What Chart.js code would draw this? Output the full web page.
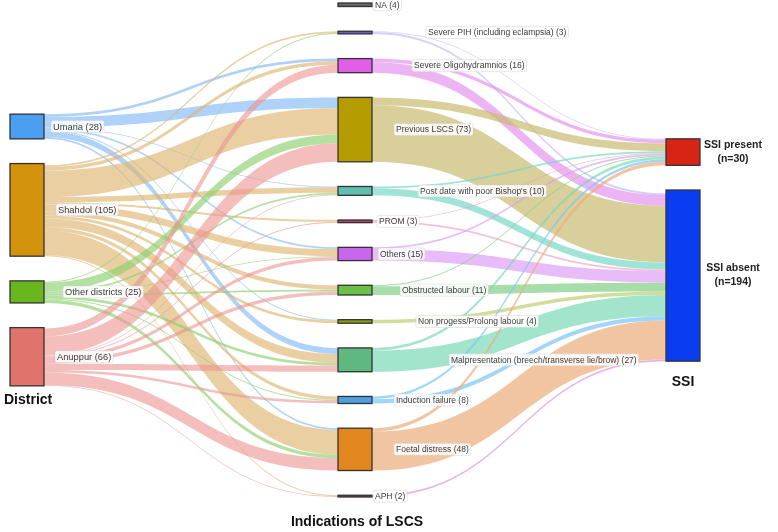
<!DOCTYPE html>
<html>
<head>
<meta charset="utf-8">
<script src="https://cdn.jsdelivr.net/npm/chart.js@4.4.1/dist/chart.umd.min.js"></script>
<style>
  html, body { margin: 0; padding: 0; background: #fff; }
  #wrap { width: 778px; height: 532px; }
</style>
</head>
<body>
<div id="wrap"><canvas id="chart"></canvas></div>
<script>
// nodes
const districts = ["Umaria", "Shahdol", "Other districts", "Anuppur"];
const indications = [
  "NA",
  "Severe PIH (including eclampsia)",
  "Severe Oligohydramnios",
  "Previous LSCS",
  "Post date with poor Bishop's",
  "PROM",
  "Others",
  "Obstructed labour",
  "Non progess/Prolong labour",
  "Malpresentation (breech/transverse lie/brow)",
  "Induction failure",
  "Foetal distress",
  "APH",
];
const outcomes = ["SSI present", "SSI absent"];

// district -> indication (same order as indications)
const fromUmaria   = [0, 0, 3, 12, 1, 0, 2, 0, 1, 7, 0, 2, 0];
const fromShahdol  = [2, 2, 4, 30, 6, 2, 8, 5, 3, 10, 4, 28, 1];
const fromOther    = [1, 1, 0, 10, 2, 0, 1, 2, 0, 3, 1, 4, 0];
const fromAnuppur  = [1, 0, 9, 21, 1, 1, 4, 4, 0, 7, 3, 14, 1];

// indication -> SSI
const toSsiPresent = [0, 1, 4, 9, 2, 1, 2, 1, 0, 3, 3, 4, 0];
const toSsiAbsent  = [4, 2, 12, 64, 8, 2, 13, 10, 4, 24, 5, 44, 2];

// styles
const districtColors = ["#4a9ff2", "#d4930c", "#69b61f", "#e0746c"];
const districtLinkColors = [
  "rgba(120,180,245,0.6)", "rgba(222,182,112,0.65)",
  "rgba(140,208,110,0.65)", "rgba(236,150,146,0.62)",
];
const indicationColors = [
  "#666666", "#6a5cd0", "#e05ee8", "#b49c00", "#5fbfae", "#b83c6c", "#c866ee",
  "#6cbf48", "#8a9c18", "#5fb87e", "#4d9fe0", "#e2861e", "#7a3c5c",
];
const indicationLinkColors = [
  "rgba(150,150,150,0)", "rgba(185,175,245,0.6)", "rgba(226,140,236,0.65)",
  "rgba(200,186,112,0.7)", "rgba(120,216,200,0.7)", "rgba(236,150,192,0.6)",
  "rgba(218,152,246,0.65)", "rgba(130,206,132,0.7)", "rgba(190,206,112,0.7)",
  "rgba(122,216,182,0.7)", "rgba(122,196,246,0.7)", "rgba(236,172,122,0.7)",
  "rgba(216,130,206,0.6)",
];
const naLinkColor = "rgba(150,150,150,0)";
const outcomeColors = ["#d82414", "#0a3cf2"];
const indicationLabelShift = [3, 56, 42, 24, 48, 7, 8, 30, 46, 79, 24, 24, 3];
const districtLabelShift = [9, 14, 21, 13];

const GAP = 28;
const NODE_W = 34;
const Y_MAX = 560;

const districtFlows = [fromUmaria, fromShahdol, fromOther, fromAnuppur];
const sum = (a) => a.reduce((s, v) => s + v, 0);

function stack(values) {
  const total = sum(values) + GAP * (values.length - 1);
  let y = (Y_MAX - total) / 2;
  return values.map((v) => {
    const n = { y0: y, y1: y + v, value: v };
    y += v + GAP;
    return n;
  });
}

function band(ctx, x0, a0, a1, x1, b0, b1, color) {
  const xm = (x0 + x1) / 2;
  ctx.beginPath();
  ctx.moveTo(x0, a0);
  ctx.bezierCurveTo(xm, a0, xm, b0, x1, b0);
  ctx.lineTo(x1, b1);
  ctx.bezierCurveTo(xm, b1, xm, a1, x0, a1);
  ctx.closePath();
  ctx.fillStyle = color;
  ctx.fill();
}

function label(ctx, text, x, y, size) {
  ctx.font = `${size}px 'Liberation Sans', Arial, sans-serif`;
  const w = ctx.measureText(text).width;
  ctx.fillStyle = "rgba(255,255,255,0.85)";
  ctx.strokeStyle = "rgba(200,200,200,0.7)";
  ctx.lineWidth = 0.6;
  ctx.beginPath();
  ctx.roundRect(x - 2, y - 6, w + 4, 12, 2);
  ctx.fill();
  ctx.stroke();
  ctx.fillStyle = "#3a3a3a";
  ctx.textAlign = "left";
  ctx.textBaseline = "middle";
  ctx.fillText(text, x, y + 0.5);
}

const sankeyPlugin = {
  id: "sankey",
  afterDatasetsDraw(chart) {
    const { ctx } = chart;
    const xs = chart.scales.x, ys = chart.scales.y;
    const py = (v) => ys.getPixelForValue(v);

    const dNodes = stack(districtFlows.map(sum));
    const iNodes = stack(indications.map((_, j) => sum(districtFlows.map((f) => f[j]))));
    const oNodes = stack([sum(toSsiPresent), sum(toSsiAbsent)]);

    const xD = xs.getPixelForValue(0), xI = xs.getPixelForValue(1), xO = xs.getPixelForValue(2);

    ctx.save();
    // district -> indication
    const iIn = iNodes.map((n) => n.y0);
    districtFlows.forEach((flows, i) => {
      let sOut = dNodes[i].y0;
      flows.forEach((v, j) => {
        if (!v) return;
        const col = j === 0 ? naLinkColor : districtLinkColors[i];
        band(ctx, xD + NODE_W, py(sOut), py(sOut + v), xI, py(iIn[j]), py(iIn[j] + v), col);
        sOut += v;
        iIn[j] += v;
      });
    });
    // indication -> SSI
    const ssiFlows = [toSsiPresent, toSsiAbsent];
    const oIn = oNodes.map((n) => n.y0);
    const iOut = iNodes.map((n) => n.y0);
    indications.forEach((_, j) => {
      ssiFlows.forEach((f, s) => {
        const v = f[j];
        if (!v) return;
        band(ctx, xI + NODE_W, py(iOut[j]), py(iOut[j] + v), xO, py(oIn[s]), py(oIn[s] + v), indicationLinkColors[j]);
        iOut[j] += v;
        oIn[s] += v;
      });
    });

    // nodes
    const box = (x, n, color) => {
      ctx.fillStyle = color;
      ctx.strokeStyle = "#333";
      ctx.lineWidth = 1.3;
      const y0 = py(n.y0), h = py(n.y1) - y0;
      ctx.fillRect(x, y0, NODE_W, h);
      ctx.strokeRect(x, y0, NODE_W, h);
    };
    dNodes.forEach((n, i) => box(xD, n, districtColors[i]));
    iNodes.forEach((n, j) => box(xI, n, indicationColors[j]));
    oNodes.forEach((n, s) => box(xO, n, outcomeColors[s]));

    // labels
    dNodes.forEach((n, i) => {
      label(ctx, `${districts[i]} (${n.value})`, xD + NODE_W + districtLabelShift[i], py((n.y0 + n.y1) / 2), 9.3);
    });
    iNodes.forEach((n, j) => {
      label(ctx, `${indications[j]} (${n.value})`, xI + NODE_W + indicationLabelShift[j], py((n.y0 + n.y1) / 2), 8.5);
    });
    ctx.fillStyle = "#222";
    ctx.textAlign = "center";
    ctx.textBaseline = "middle";
    ctx.font = "bold 10.5px 'Liberation Sans', Arial, sans-serif";
    oNodes.forEach((n, s) => {
      const cy = py((n.y0 + n.y1) / 2);
      ctx.fillText(outcomes[s], xO + NODE_W + 33, cy - 7);
      ctx.fillText(`(n=${n.value})`, xO + NODE_W + 33, cy + 7);
    });

    // column titles
    ctx.font = "bold 14px 'Liberation Sans', Arial, sans-serif";
    ctx.fillStyle = "#111";
    ctx.textAlign = "left";
    ctx.fillText("District", xD - 6, py(dNodes[3].y1) + 14);
    ctx.textAlign = "center";
    ctx.fillText("SSI", xO + NODE_W / 2, py(oNodes[1].y1) + 21);
    ctx.fillText("Indications of LSCS", xI + NODE_W / 2 + 2, py(Y_MAX) + 25);
    ctx.restore();
  },
};

const ctx = document.getElementById("chart");
new Chart(ctx, {
  type: "scatter",
  data: { datasets: [{ data: [], pointRadius: 0 }] },
  options: {
    responsive: true,
    maintainAspectRatio: false,
    animation: false,
    layout: { padding: { left: 10, right: 112, top: 3, bottom: 35 } },
    plugins: { legend: { display: false }, tooltip: { enabled: false } },
    scales: {
      x: { type: "linear", min: 0, max: 2, display: false },
      y: { type: "linear", min: 0, max: Y_MAX, reverse: true, display: false },
    },
  },
  plugins: [sankeyPlugin],
});
</script>
</body>
</html>
